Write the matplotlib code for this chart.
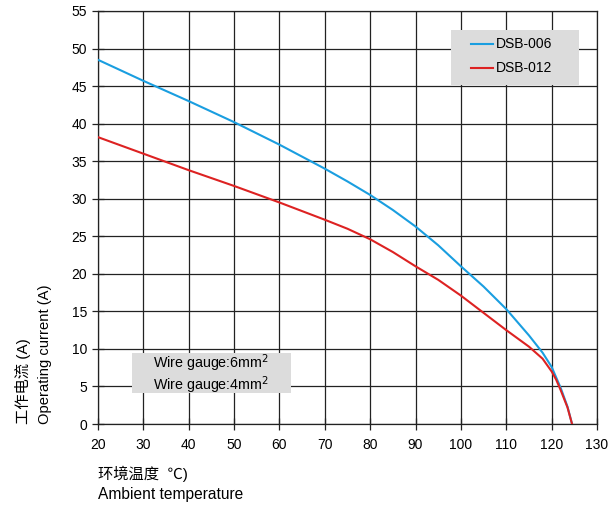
import matplotlib
matplotlib.use("Agg")
import matplotlib.pyplot as plt
from matplotlib.patches import Rectangle

plt.rcParams['font.family'] = ['Liberation Sans', 'Noto Sans CJK SC', 'DejaVu Sans']

temp_006 = [20, 30, 40, 50, 60, 70, 75, 80, 85, 90, 95, 100, 105, 110, 115, 118, 120, 122, 123.5, 124.5]
cur_006 = [48.5, 45.7, 43.0, 40.2, 37.2, 34.0, 32.3, 30.5, 28.5, 26.3, 23.8, 21.0, 18.3, 15.3, 11.8, 9.5, 7.6, 4.8, 2.3, 0.0]
temp_012 = [20, 30, 40, 50, 60, 70, 75, 80, 85, 90, 95, 100, 105, 110, 115, 118, 120, 121, 122, 123.5, 124.5]
cur_012 = [38.2, 36.0, 33.8, 31.7, 29.5, 27.2, 26.0, 24.6, 22.9, 21.0, 19.2, 17.1, 14.8, 12.5, 10.3, 8.7, 7.0, 5.9, 4.5, 2.2, 0.0]
xticks = list(range(20, 131, 10))
yticks = list(range(0, 56, 5))
labels = ['DSB-006', 'DSB-012']
wire_labels = ['Wire gauge:6mm$^2$', 'Wire gauge:4mm$^2$']
colors = ['#1a9ee0', '#dd2222']

fig = plt.figure(figsize=(6.09, 5.07), dpi=100)
ax = fig.add_axes([98/609, 1-424/507, (597-98)/609, (424-11)/507])

ax.plot(temp_006, cur_006, color=colors[0], lw=1.5, zorder=3)
ax.plot(temp_012, cur_012, color=colors[1], lw=1.5, zorder=3)

ax.set_xlim(20, 130)
ax.set_ylim(0, 55)
ax.set_xticks(xticks)
ax.set_yticks(yticks)
ax.grid(True, color='#222222', lw=0.9)
for s in ax.spines.values():
    s.set_color('#222222')
    s.set_linewidth(0.9)
ax.tick_params(axis='both', direction='inout', length=8, width=0.9, color='#222222',
               labelsize=10, pad=4)
ax.tick_params(axis='x', pad=6)

# legend box
ax.add_patch(Rectangle((97.9, 45.2), 28.1, 7.3, facecolor='#dcdcdc', edgecolor='none', zorder=4))
ax.plot([102.3, 107.1], [50.6, 50.6], color=colors[0], lw=1.5, zorder=5)
ax.plot([102.3, 107.1], [47.4, 47.4], color=colors[1], lw=1.5, zorder=5)
ax.text(107.8, 50.6, labels[0], fontsize=10, va='center', ha='left', zorder=5)
ax.text(107.8, 47.4, labels[1], fontsize=10, va='center', ha='left', zorder=5)

# wire gauge box
ax.add_patch(Rectangle((27.6, 4.1), 34.9, 5.4, facecolor='#dcdcdc', edgecolor='none', zorder=4))
ax.text(45.0, 6.6, '\n'.join(wire_labels), fontsize=10.3, ha='center', va='center',
        linespacing=1.0, zorder=5)

fig.text(23/609, 1-424/507, '工作电流 (A)', rotation=90, fontsize=11, ha='center', va='bottom')
fig.text(45/609, 1-424/507, 'Operating current (A)', rotation=90, fontsize=10.6, ha='center', va='bottom')
fig.text(98/609, 1-474/507, '环境温度  ℃)', fontsize=11, ha='left', va='center')
fig.text(98/609, 1-494/507, 'Ambient temperature', fontsize=11.2, ha='left', va='center')

fig.savefig('out.png', dpi=100)
